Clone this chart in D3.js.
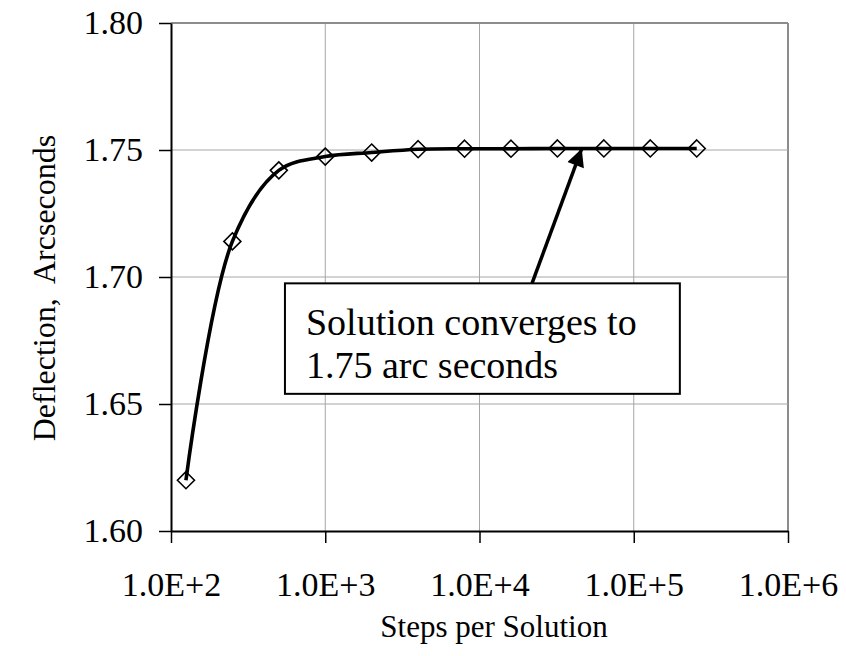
<!DOCTYPE html>
<html>
<head>
<meta charset="utf-8">
<script src="https://cdn.jsdelivr.net/npm/d3@7"></script>
<style>
  body { margin: 0; background: #fff; }
  text { font-family: "Liberation Serif", "Times New Roman", serif; fill: #000; }
</style>
</head>
<body>
<svg width="846" height="656"></svg>
<script>
// steps per solution and the deflection found for each
var steps = [125, 250, 500, 1000, 2000, 4000, 8000, 16000, 32000, 64000, 128000, 256000];
var deflection = [1.620, 1.714, 1.742, 1.7474, 1.749, 1.7503, 1.7505, 1.7505, 1.7506, 1.7506, 1.7506, 1.7506];

var xTicks = [1e2, 1e3, 1e4, 1e5, 1e6];
var yTicks = [1.60, 1.65, 1.70, 1.75, 1.80];

var noteLines = ["Solution converges to", "1.75 arc seconds"];

var svg = d3.select("svg"),
    width = +svg.attr("width"),
    height = +svg.attr("height");

var margin = {top: 23, right: 58, bottom: 125, left: 171};

var x = d3.scaleLog()
    .domain([1e2, 1e6])
    .range([margin.left, width - margin.right]);

var y = d3.scaleLinear()
    .domain([1.60, 1.80])
    .range([height - margin.bottom, margin.top]);

// gridlines
svg.append("g")
    .selectAll("line")
    .data(xTicks.slice(1))
    .enter().append("line")
    .attr("x1", function (d) { return x(d); })
    .attr("x2", function (d) { return x(d); })
    .attr("y1", y(1.80))
    .attr("y2", y(1.60))
    .attr("stroke", function (d, i) { return i == 3 ? "#8c8c8c" : "#a6a6a6"; })
    .attr("stroke-width", function (d, i) { return i == 3 ? 2 : 1; });

svg.append("g")
    .selectAll("line")
    .data(yTicks.slice(1))
    .enter().append("line")
    .attr("x1", x(1e2))
    .attr("x2", x(1e6))
    .attr("y1", function (d) { return y(d); })
    .attr("y2", function (d) { return y(d); })
    .attr("stroke", function (d, i) { return i == 3 ? "#8c8c8c" : "#a6a6a6"; })
    .attr("stroke-width", function (d, i) { return i == 3 ? 2 : 1; });

// axes
var xAxis = svg.append("g")
    .attr("transform", "translate(0," + y(1.60) + ")")
    .call(d3.axisBottom(x)
        .tickValues(xTicks)
        .tickSize(12)
        .tickSizeOuter(0)
        .tickFormat(function (d) { return "1.0E+" + Math.round(Math.log10(d)); }));

var yAxis = svg.append("g")
    .attr("transform", "translate(" + x(1e2) + ",0)")
    .call(d3.axisLeft(y)
        .tickValues(yTicks)
        .tickSize(12)
        .tickSizeOuter(0)
        .tickFormat(d3.format(".2f")));

[xAxis, yAxis].forEach(function (a) {
    a.select(".domain").attr("stroke", "#000").attr("stroke-width", 2);
    a.selectAll(".tick line").attr("stroke", "#000").attr("stroke-width", 1.5);
    a.selectAll("text").attr("font-size", 34).attr("font-family", "Liberation Serif");
});
xAxis.selectAll("text").attr("dy", 50);
yAxis.selectAll("text").attr("dx", -13);

// axis titles
svg.append("text")
    .attr("x", 494)
    .attr("y", 637)
    .attr("text-anchor", "middle")
    .attr("font-size", 31)
    .text("Steps per Solution");

svg.append("text")
    .attr("transform", "translate(55,288) rotate(-90)")
    .attr("text-anchor", "middle")
    .attr("font-size", 32)
    .attr("xml:space", "preserve")
    .style("white-space", "pre")
    .text("Deflection,  Arcseconds");

// data line
var data = steps.map(function (s, i) { return {s: s, v: deflection[i]}; });

var line = d3.line()
    .x(function (d) { return x(d.s); })
    .y(function (d) { return y(d.v); })
    .curve(d3.curveCatmullRom.alpha(0.5));

svg.append("path")
    .datum(data)
    .attr("fill", "none")
    .attr("stroke", "#000")
    .attr("stroke-width", 3.6)
    .attr("d", line);

svg.append("g")
    .selectAll("path")
    .data(data)
    .enter().append("path")
    .attr("transform", function (d) { return "translate(" + x(d.s) + "," + y(d.v) + ")"; })
    .attr("d", "M0,-8.5L8.5,0L0,8.5L-8.5,0Z")
    .attr("fill", "none")
    .attr("stroke", "#000")
    .attr("stroke-width", 1.6);

// annotation: arrow pointing at the converged value
var tip = {s: 46000, v: 1.7505};
var tail = {s: 21900, v: 1.6975};
var box = {s0: 548, s1: 199000, v0: 1.6975, v1: 1.654};

svg.append("defs").append("marker")
    .attr("id", "head")
    .attr("viewBox", "0 0 10 10")
    .attr("refX", 10)
    .attr("refY", 5)
    .attr("markerWidth", 7)
    .attr("markerHeight", 5)
    .attr("markerUnits", "strokeWidth")
    .attr("orient", "auto")
    .append("path")
    .attr("d", "M0,0L10,5L0,10Z")
    .attr("fill", "#000");

svg.append("line")
    .attr("x1", x(tail.s))
    .attr("y1", y(tail.v))
    .attr("x2", x(tip.s))
    .attr("y2", y(tip.v))
    .attr("stroke", "#000")
    .attr("stroke-width", 3.5)
    .attr("marker-end", "url(#head)");

svg.append("rect")
    .attr("x", x(box.s0))
    .attr("y", y(box.v0))
    .attr("width", x(box.s1) - x(box.s0))
    .attr("height", y(box.v1) - y(box.v0))
    .attr("fill", "#fff")
    .attr("stroke", "#000")
    .attr("stroke-width", 2);

svg.append("g")
    .selectAll("text")
    .data(noteLines)
    .enter().append("text")
    .attr("x", x(box.s0) + 21)
    .attr("y", function (d, i) { return y(box.v0) + 52 + i * 43; })
    .attr("font-size", 38)
    .text(function (d) { return d; });
</script>
</body>
</html>
